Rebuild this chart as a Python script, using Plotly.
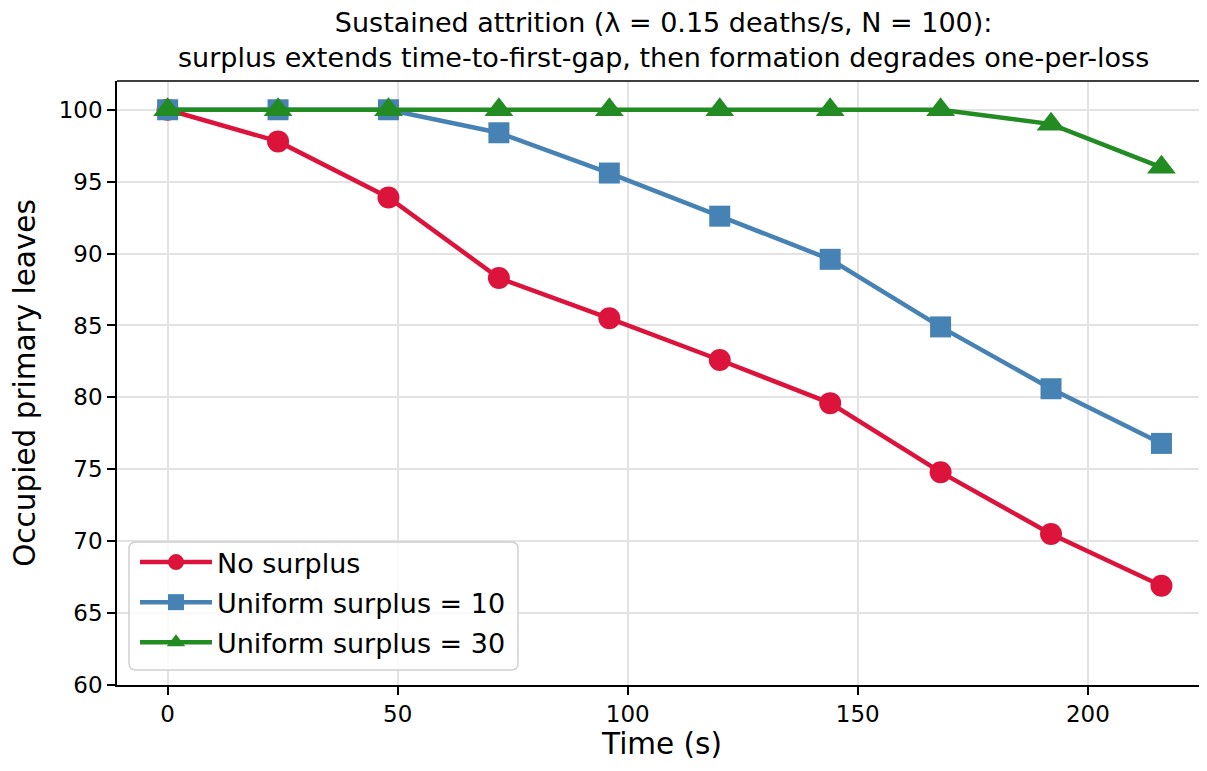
import plotly.graph_objects as go

# ---- data ----
time_s = [0, 24, 48, 72, 96, 120, 144, 168, 192, 216]
no_surplus = [100, 97.8, 93.9, 88.3, 85.5, 82.6, 79.6, 74.8, 70.5, 66.9]
surplus_10 = [100, 100, 100, 98.4, 95.6, 92.6, 89.6, 84.9, 80.6, 76.8]
surplus_30 = [100, 100, 100, 100, 100, 100, 100, 100, 99.0, 96.0]
series_names = ["No surplus", "Uniform surplus = 10", "Uniform surplus = 30"]
x_ticks = [0, 50, 100, 150, 200]
y_ticks = [60, 65, 70, 75, 80, 85, 90, 95, 100]

colors = ["#DC143C", "#4682B4", "#228B22"]
symbols = ["circle", "square", "triangle-up"]
msizes = [22, 21, 25]
series = [no_surplus, surplus_10, surplus_30]

FONT = "DejaVu Sans"
OFF = 8  # page body margin in the browser
W, H = 1207 - OFF, 771 - OFF
# plot area in screen pixels
SL, SR, ST, SB = 117, 1207, 81, 685
L, T = SL - OFF, ST - OFF
R = W - (SR - OFF)
B = H - (SB - OFF)
pw, ph = W - L - R, H - T - B


def px_x(p):  # screen px -> paper x
    return (p - OFF - L) / pw


def px_y(p):  # screen px -> paper y
    return (H - B - (p - OFF)) / ph


fig = go.Figure()
for name, ys, c, s, ms in zip(series_names, series, colors, symbols, msizes):
    fig.add_trace(go.Scatter(
        x=time_s, y=ys, name=name, mode="lines+markers",
        legendgroup=name,
        line=dict(color=c, width=4.5),
        marker=dict(color=c, symbol=s, size=ms, line=dict(width=0)),
    ))

# rounded legend frame
x0, x1 = px_x(129), px_x(518)
y0, y1 = px_y(670), px_y(542)
rx, ry = 7 / pw, 7 / ph
path = (f"M{x0+rx},{y0} L{x1-rx},{y0} Q{x1},{y0} {x1},{y0+ry} "
        f"L{x1},{y1-ry} Q{x1},{y1} {x1-rx},{y1} L{x0+rx},{y1} "
        f"Q{x0},{y1} {x0},{y1-ry} L{x0},{y0+ry} Q{x0},{y0} {x0+rx},{y0} Z")

fig.update_layout(
    width=W, height=H,
    margin=dict(l=L, r=R, t=T, b=B, autoexpand=False),
    paper_bgcolor="white", plot_bgcolor="white",
    font=dict(family=FONT, color="#000000"),
    xaxis=dict(
        range=[-11.0, 225.9], tickvals=x_ticks, ticks="outside", ticklen=8,
        tickwidth=1.6, tickcolor="#000", showline=True, linecolor="#000",
        linewidth=1.6, showgrid=True, gridcolor="#e3e3e3", gridwidth=1.5,
        zeroline=False, tickfont=dict(family=FONT, size=23, color="#000"),
        title=dict(text="Time (s)", font=dict(family=FONT, size=29.5, color="#000"), standoff=0),
    ),
    yaxis=dict(
        range=[60, 102], tickvals=y_ticks, ticks="outside", ticklen=8,
        tickwidth=1.6, tickcolor="#000", showline=True, linecolor="#000",
        linewidth=1.6, showgrid=True, gridcolor="#e3e3e3", gridwidth=1.5,
        zeroline=False, tickfont=dict(family=FONT, size=23, color="#000"),
        title=dict(text="Occupied primary leaves", font=dict(family=FONT, size=29.5, color="#000"), standoff=33),
    ),
    legend=dict(
        x=px_x(135), y=px_y(538), xanchor="left", yanchor="top",
        bgcolor="rgba(0,0,0,0)", borderwidth=0, tracegroupgap=2,
        font=dict(family=FONT, size=27, color="#000"),
        itemwidth=72,
    ),
    annotations=[
        dict(
            text="Sustained attrition (λ = 0.15 deaths/s, N = 100):<br>"
                 "surplus extends time-to-first-gap, then formation degrades one-per-loss",
            xref="paper", yref="paper", x=px_x(663.5), y=px_y(40),
            xanchor="center", yanchor="middle", showarrow=False, align="center",
            borderpad=0,
            font=dict(family=FONT, size=27, color="#000"),
        ),
    ],
    shapes=[
        dict(type="path", xref="paper", yref="paper", path=path,
             fillcolor="rgba(255,255,255,0.8)", line=dict(color="#d0d0d0", width=1.5),
             layer="above"),
        dict(type="line", xref="paper", yref="paper", x0=0, x1=1, y0=1, y1=1,
             line=dict(color="#000", width=1.6)),
    ],
)

fig.write_html("out.html")
